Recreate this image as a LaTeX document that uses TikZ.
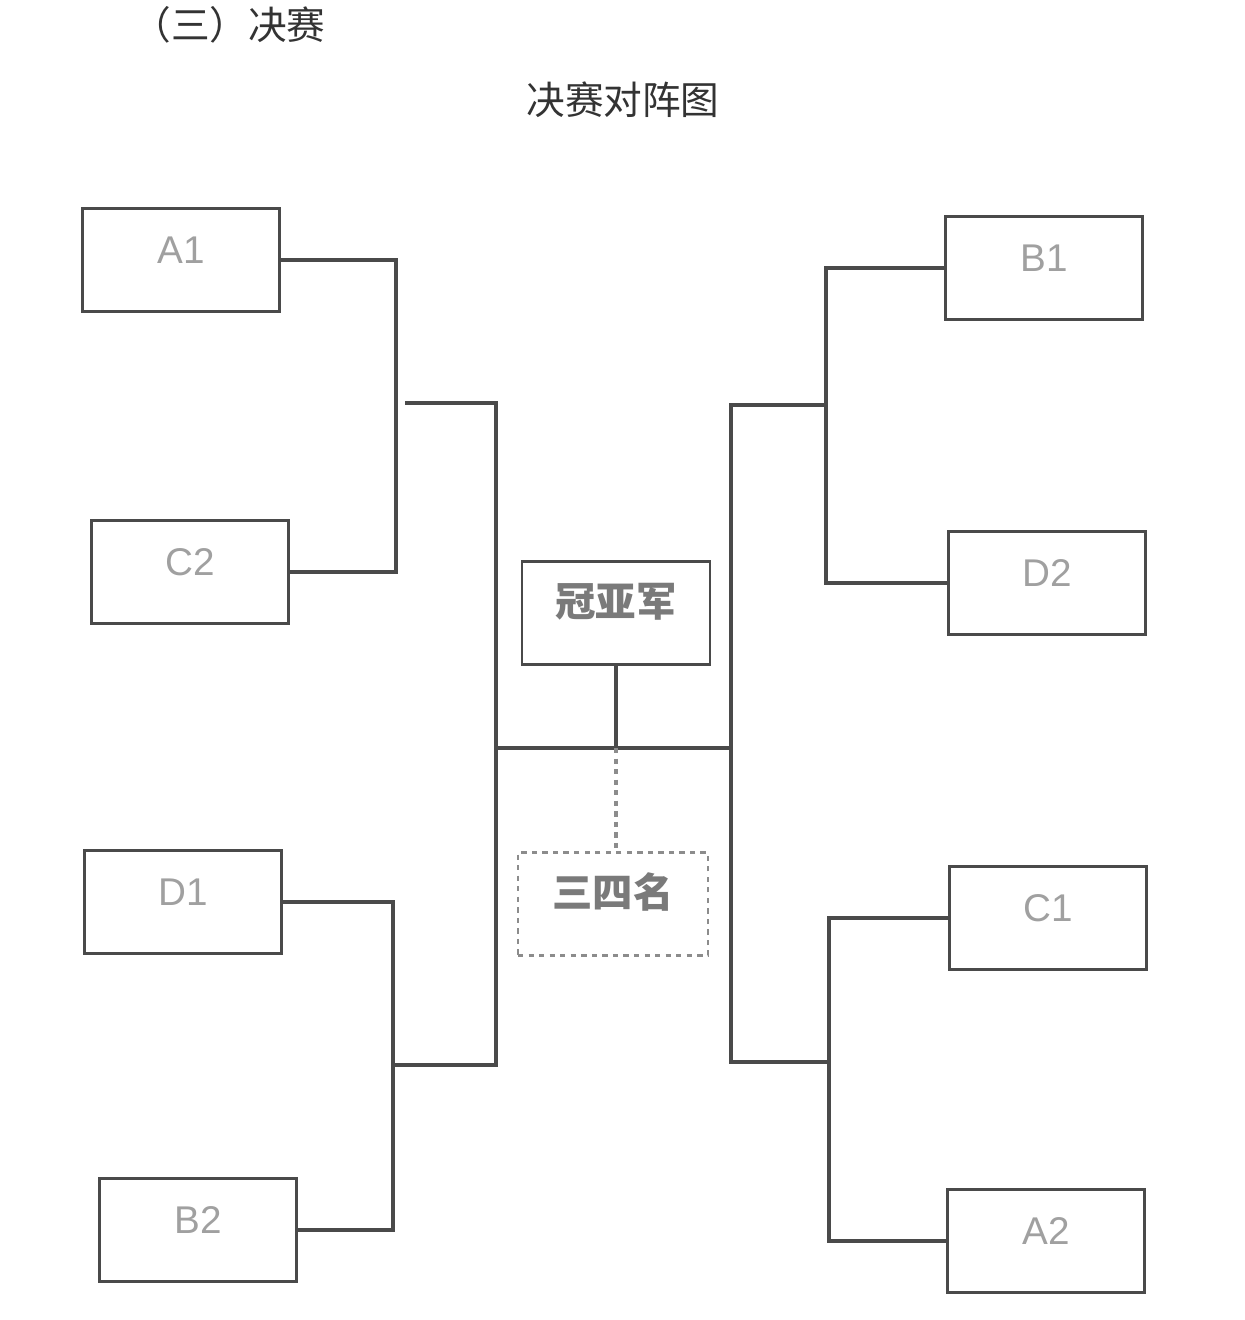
\documentclass[tikz,border=0pt]{standalone}
\usepackage{fontspec}
\setmainfont{Liberation Sans}
\newfontfamily\cjk{Noto Sans CJK SC}
\usepackage{xcolor}
\usetikzlibrary{positioning}

\definecolor{linegray}{HTML}{4A4A4A}
\definecolor{labelgray}{HTML}{A0A0A0}
\definecolor{headgray}{HTML}{7A7A7A}
\definecolor{dashgray}{HTML}{8C8C8C}

\tikzset{
  team/.style={draw=linegray, line width=1.6pt, inner sep=0pt,
    minimum width=3.94cm, minimum height=2.06cm,
    text=labelgray, font=\fontsize{22}{26}\selectfont,
    text height=0.6cm, text depth=0.48cm},
  medal/.style={team, text=headgray, font=\cjk\bfseries\fontsize{23}{27}\selectfont,
    minimum width=3.76cm},
  bronze/.style={medal, draw=dashgray, dashed, minimum width=3.8cm},
  title/.style={text=black!80, font=\cjk\fontsize{22}{26}\selectfont, inner sep=0pt},
  link/.style={draw=linegray, line width=1.8pt}
}

\begin{document}
\begin{tikzpicture}[x=0.02cm, y=-0.02cm]
\useasboundingbox (0,0) rectangle (1245,1320);

% headings
\node[title] (sec) at (229,25) {（三）决赛};
\node[title] (ttl) at (623,100) {决赛对阵图};

% left half
\node[team] (A1) at (181,260) {A1};
\node[team] (C2) at (190,572) {C2};
\node[team] (D1) at (183,902) {D1};
\node[team] (B2) at (198,1230) {B2};

% right half
\node[team] (B1) at (1044,268) {B1};
\node[team] (D2) at (1047,583) {D2};
\node[team] (C1) at (1048,918) {C1};
\node[team] (A2) at (1046,1241) {A2};

% final and third place
\node[medal] (final) at (616,613) {冠亚军};
\node[bronze] (third) at (613,904) {三四名};

% joints
\coordinate (qL1) at (396,0);
\coordinate (qL2) at (393,0);
\coordinate (qR1) at (826,0);
\coordinate (qR2) at (829,0);
\coordinate (sLt) at (405,403);
\coordinate (sLb) at (393,1065);
\coordinate (sRt) at (826,405);
\coordinate (sRb) at (829,1062);
\coordinate (fL) at (496,748);
\coordinate (fR) at (731,748);

% quarter finals
\draw[link] (A1.east) -| (qL1 |- C2.east) -- (C2.east);
\draw[link] (D1.east) -| (qL2 |- B2.east) -- (B2.east);
\draw[link] (B1.west) -| (qR1 |- D2.west) -- (D2.west);
\draw[link] (C1.west) -| (qR2 |- A2.west) -- (A2.west);

% semi finals
\draw[link] (sLt) -| (fL) |- (sLb);
\draw[link] (sRt) -| (fR) |- (sRb);

% final
\draw[link] (fL) -- (fR);
\draw[link] (final.south) -- (final.south |- fL);
\draw[link, draw=dashgray, dashed] (final.south |- fL) -- (final.south |- third.north);
\end{tikzpicture}
\end{document}
